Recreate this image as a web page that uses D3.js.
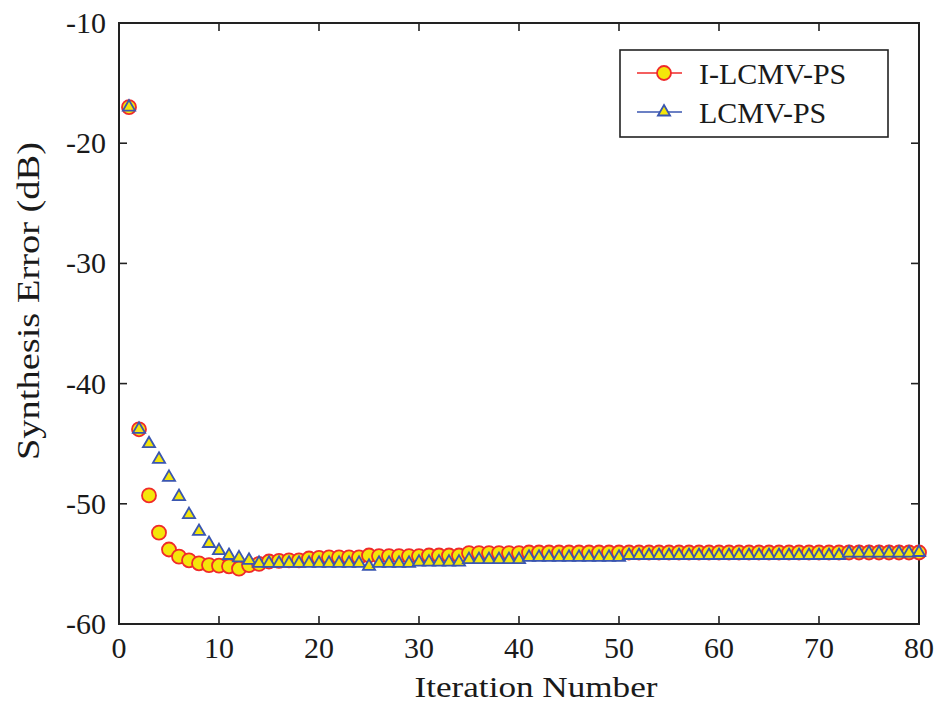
<!DOCTYPE html>
<html>
<head>
<meta charset="utf-8">
<script src="https://cdn.jsdelivr.net/npm/d3@7/dist/d3.min.js"></script>
<style>
  html, body { margin: 0; padding: 0; background: #ffffff; }
  svg { display: block; }
  text { font-family: "Liberation Serif", "DejaVu Serif", serif; fill: #1a1a1a; }
</style>
</head>
<body>
<svg id="chart" width="946" height="702"></svg>
<script>
// ---- data ----
const iterations = d3.range(1, 81);
const iLcmvPs = [
  -17.0, -43.8, -49.3, -52.4, -53.8, -54.4, -54.7, -54.95, -55.1, -55.15,
  -55.2, -55.4, -55.1, -55.0, -54.8, -54.75, -54.7, -54.7, -54.55, -54.5,
  -54.45, -54.45, -54.45, -54.45, -54.3, -54.35, -54.35, -54.35, -54.35, -54.35,
  -54.3, -54.3, -54.3, -54.3, -54.1, -54.1, -54.1, -54.1, -54.1, -54.1,
  -54.05, -54.05, -54.05, -54.05, -54.05, -54.05, -54.05, -54.05, -54.05, -54.05,
  -54.05, -54.05, -54.05, -54.05, -54.05, -54.05, -54.05, -54.05, -54.05, -54.05,
  -54.05, -54.05, -54.05, -54.05, -54.05, -54.05, -54.05, -54.05, -54.05, -54.05,
  -54.05, -54.05, -54.05, -54.05, -54.05, -54.05, -54.05, -54.05, -54.05, -54.05
];
const lcmvPs = [
  -17.0, -43.8, -45.0, -46.3, -47.8, -49.4, -50.9, -52.3, -53.3, -53.9,
  -54.3, -54.5, -54.7, -54.95, -54.95, -54.95, -54.95, -54.95, -54.95, -54.95,
  -54.95, -54.95, -54.95, -54.95, -55.2, -54.95, -54.95, -54.95, -54.95, -54.85,
  -54.85, -54.85, -54.85, -54.85, -54.65, -54.65, -54.65, -54.65, -54.65, -54.65,
  -54.45, -54.45, -54.45, -54.45, -54.45, -54.45, -54.45, -54.45, -54.45, -54.45,
  -54.3, -54.3, -54.3, -54.3, -54.3, -54.3, -54.3, -54.3, -54.3, -54.3,
  -54.3, -54.3, -54.3, -54.3, -54.3, -54.3, -54.3, -54.3, -54.3, -54.3,
  -54.3, -54.3, -54.1, -54.1, -54.1, -54.1, -54.1, -54.1, -54.1, -54.05
];
const xTicks = [0, 10, 20, 30, 40, 50, 60, 70, 80];
const yTicks = [-10, -20, -30, -40, -50, -60];
const seriesNames = ["I-LCMV-PS", "LCMV-PS"];
const xTitle = "Iteration Number";
const yTitle = "Synthesis Error (dB)";

// ---- layout ----
const svg = d3.select("#chart");
const pL = 119, pR = 919, pT = 23, pB = 624;
const x = d3.scaleLinear().domain([0, 80]).range([pL, pR]);
const y = d3.scaleLinear().domain([-60, -10]).range([pB, pT]);

const red = "#f02a2a", blue = "#3a56b0", yellow = "#f4e60a";
const axisColor = "#222";
const tickFont = 30;

// ticks (inward, all four sides)
const g = svg.append("g");
xTicks.forEach(t => {
  g.append("line").attr("x1", x(t)).attr("x2", x(t)).attr("y1", pB).attr("y2", pB - 8)
    .attr("stroke", axisColor).attr("stroke-width", 1.6);
  g.append("line").attr("x1", x(t)).attr("x2", x(t)).attr("y1", pT).attr("y2", pT + 8)
    .attr("stroke", axisColor).attr("stroke-width", 1.6);
  g.append("text").attr("x", x(t)).attr("y", pB + 34).attr("text-anchor", "middle")
    .attr("font-size", tickFont).text(t);
});
yTicks.forEach(t => {
  g.append("line").attr("x1", pL).attr("x2", pL + 8).attr("y1", y(t)).attr("y2", y(t))
    .attr("stroke", axisColor).attr("stroke-width", 1.6);
  g.append("line").attr("x1", pR).attr("x2", pR - 8).attr("y1", y(t)).attr("y2", y(t))
    .attr("stroke", axisColor).attr("stroke-width", 1.6);
  g.append("text").attr("x", pL - 13).attr("y", y(t) + 10).attr("text-anchor", "end")
    .attr("font-size", tickFont).text(t);
});

// frame
svg.append("rect").attr("x", pL).attr("y", pT).attr("width", pR - pL).attr("height", pB - pT)
  .attr("fill", "none").attr("stroke", axisColor).attr("stroke-width", 2);

// axis titles
svg.append("text").attr("x", 536).attr("y", 697).attr("text-anchor", "middle")
  .attr("font-size", 30).attr("textLength", 243).attr("lengthAdjust", "spacingAndGlyphs")
  .text(xTitle);
svg.append("text").attr("transform", `translate(39,301) rotate(-90)`)
  .attr("text-anchor", "middle").attr("font-size", 32)
  .attr("textLength", 318).attr("lengthAdjust", "spacingAndGlyphs").text(yTitle);

// series (markers only in the plot)
const plot = svg.append("g");
plot.selectAll("circle.s1").data(iLcmvPs).enter().append("circle")
  .attr("cx", (d, i) => x(iterations[i])).attr("cy", d => y(d)).attr("r", 7)
  .attr("fill", yellow).attr("stroke", red).attr("stroke-width", 1.8);
const tri = d3.symbol().type(d3.symbolTriangle).size(64);
plot.selectAll("path.s2").data(lcmvPs).enter().append("path")
  .attr("d", tri).attr("transform", (d, i) => `translate(${x(iterations[i])},${y(d)})`)
  .attr("fill", yellow).attr("stroke", blue).attr("stroke-width", 1.8);

// legend
const lg = svg.append("g");
lg.append("rect").attr("x", 620).attr("y", 50).attr("width", 268).attr("height", 87)
  .attr("fill", "#fff").attr("stroke", axisColor).attr("stroke-width", 1.6);
const rows = [
  { name: seriesNames[0], color: red, yy: 73, shape: "circle" },
  { name: seriesNames[1], color: blue, yy: 112, shape: "tri" }
];
rows.forEach(r => {
  lg.append("line").attr("x1", 637).attr("x2", 682).attr("y1", r.yy).attr("y2", r.yy)
    .attr("stroke", r.color).attr("stroke-width", 1.6);
  if (r.shape === "circle") {
    lg.append("circle").attr("cx", 664).attr("cy", r.yy).attr("r", 7)
      .attr("fill", yellow).attr("stroke", red).attr("stroke-width", 1.8);
  } else {
    lg.append("path").attr("d", tri).attr("transform", `translate(664,${r.yy})`)
      .attr("fill", yellow).attr("stroke", blue).attr("stroke-width", 1.8);
  }
  lg.append("text").attr("x", 699).attr("y", r.yy + 11).attr("font-size", 30).text(r.name);
});
</script>
</body>
</html>
